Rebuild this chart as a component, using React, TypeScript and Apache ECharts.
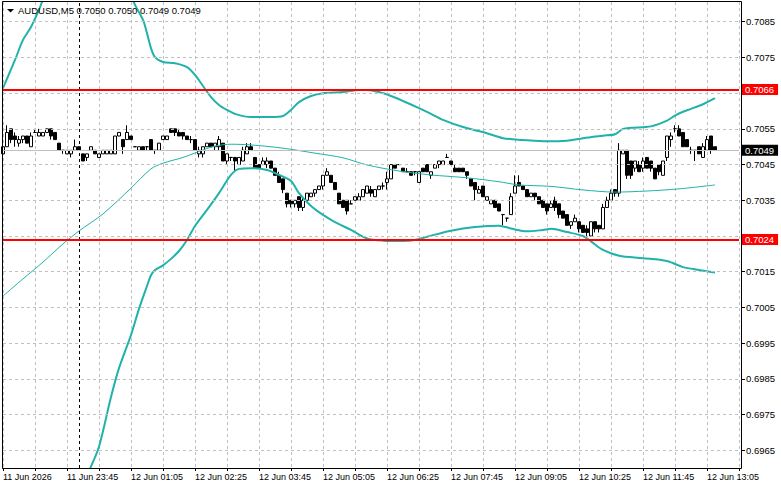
import React, { useEffect, useRef } from 'react';
import * as echarts from 'echarts';

const symbol = 'AUDUSD';
const timeframe = 'M5';
const slotCount = 185;
const startMinutes = 22 * 60 + 25; // 11 Jun 22:25
const separatorIndex = 19; // 12 Jun 00:00

const tickLabels = [
  '11 Jun 2026', '11 Jun 23:45', '12 Jun 01:05', '12 Jun 02:25', '12 Jun 03:45', '12 Jun 05:05',
  '12 Jun 06:25', '12 Jun 07:45', '12 Jun 09:05', '12 Jun 10:25', '12 Jun 11:45', '12 Jun 13:05',
];

const yTicks = [0.6965, 0.6975, 0.6985, 0.6995, 0.7005, 0.7015, 0.7025, 0.7035, 0.7045, 0.7055, 0.7065, 0.7075, 0.7085];

const resistance = 0.7066;
const support = 0.7024;
const bid = 0.7049;

// [open, close, low, high]
const ohlc: number[][] = [
  [0.7048, 0.7050, 0.7048, 0.7050], [0.7050, 0.7054, 0.7050, 0.7056], [0.7055, 0.7052, 0.7051, 0.7055], [0.7053, 0.7052, 0.7050, 0.7054],
  [0.7051, 0.7052, 0.7050, 0.7053], [0.7052, 0.7053, 0.7051, 0.7053], [0.7053, 0.7051, 0.7051, 0.7053], [0.7050, 0.7053, 0.7050, 0.7054],
  [0.7054, 0.7054, 0.7054, 0.7055], [0.7053, 0.7054, 0.7053, 0.7055], [0.7053, 0.7054, 0.7053, 0.7054], [0.7054, 0.7055, 0.7054, 0.7055],
  [0.7055, 0.7053, 0.7052, 0.7055], [0.7054, 0.7052, 0.7052, 0.7054], [0.7051, 0.7049, 0.7049, 0.7051], [0.7049, 0.7049, 0.7048, 0.7049],
  [0.7048, 0.7049, 0.7048, 0.7049], [0.7048, 0.7049, 0.7047, 0.7049], [0.7049, 0.7050, 0.7049, 0.7052], [0.7050, 0.7049, 0.7049, 0.7050],
  [0.7048, 0.7046, 0.7046, 0.7048], [0.7047, 0.7048, 0.7046, 0.7048], [0.7049, 0.7050, 0.7049, 0.7050], [0.7049, 0.7048, 0.7048, 0.7049],
  [0.7047, 0.7048, 0.7047, 0.7048], [0.7048, 0.7049, 0.7048, 0.7049], [0.7048, 0.7049, 0.7048, 0.7049], [0.7048, 0.7049, 0.7048, 0.7049],
  [0.7048, 0.7053, 0.7048, 0.7053], [0.7053, 0.7054, 0.7053, 0.7054], [0.7052, 0.7050, 0.7048, 0.7052], [0.7052, 0.7054, 0.7052, 0.7056],
  [0.7053, 0.7052, 0.7052, 0.7053], [0.7050, 0.7050, 0.7050, 0.7050], [0.7049, 0.7050, 0.7049, 0.7050], [0.7050, 0.7049, 0.7049, 0.7050],
  [0.7050, 0.7050, 0.7049, 0.7050], [0.7052, 0.7049, 0.7049, 0.7052], [0.7049, 0.7049, 0.7048, 0.7049], [0.7049, 0.7051, 0.7049, 0.7051],
  [0.7052, 0.7053, 0.7052, 0.7053], [0.7052, 0.7053, 0.7052, 0.7053], [0.7055, 0.7054, 0.7054, 0.7055], [0.7055, 0.7054, 0.7053, 0.7055],
  [0.7054, 0.7053, 0.7053, 0.7055], [0.7054, 0.7053, 0.7052, 0.7054], [0.7053, 0.7052, 0.7052, 0.7053], [0.7052, 0.7052, 0.7051, 0.7053],
  [0.7052, 0.7049, 0.7049, 0.7052], [0.7048, 0.7049, 0.7047, 0.7050], [0.7048, 0.7050, 0.7047, 0.7050], [0.7050, 0.7051, 0.7050, 0.7051],
  [0.7051, 0.7050, 0.7050, 0.7051], [0.7050, 0.7051, 0.7049, 0.7051], [0.7050, 0.7052, 0.7049, 0.7053], [0.7051, 0.7046, 0.7046, 0.7051],
  [0.7046, 0.7048, 0.7045, 0.7048], [0.7047, 0.7047, 0.7046, 0.7047], [0.7047, 0.7046, 0.7043, 0.7047], [0.7045, 0.7047, 0.7045, 0.7047],
  [0.7046, 0.7049, 0.7046, 0.7050], [0.7048, 0.7050, 0.7048, 0.7051], [0.7050, 0.7049, 0.7049, 0.7051], [0.7047, 0.7044, 0.7044, 0.7047],
  [0.7045, 0.7044, 0.7044, 0.7045], [0.7045, 0.7046, 0.7045, 0.7047], [0.7045, 0.7046, 0.7044, 0.7047], [0.7046, 0.7044, 0.7044, 0.7046],
  [0.7044, 0.7042, 0.7042, 0.7044], [0.7042, 0.7040, 0.7040, 0.7043], [0.7041, 0.7038, 0.7037, 0.7041], [0.7037, 0.7034, 0.7033, 0.7037],
  [0.7035, 0.7034, 0.7033, 0.7035], [0.7034, 0.7035, 0.7033, 0.7035], [0.7036, 0.7033, 0.7032, 0.7036], [0.7033, 0.7035, 0.7032, 0.7036],
  [0.7035, 0.7037, 0.7035, 0.7037], [0.7036, 0.7037, 0.7036, 0.7037], [0.7037, 0.7038, 0.7036, 0.7038], [0.7038, 0.7039, 0.7038, 0.7039],
  [0.7039, 0.7042, 0.7038, 0.7042], [0.7042, 0.7043, 0.7042, 0.7044], [0.7042, 0.7040, 0.7040, 0.7042], [0.7040, 0.7038, 0.7038, 0.7040],
  [0.7037, 0.7034, 0.7034, 0.7037], [0.7035, 0.7033, 0.7033, 0.7035], [0.7035, 0.7032, 0.7031, 0.7035], [0.7034, 0.7034, 0.7034, 0.7035],
  [0.7035, 0.7036, 0.7035, 0.7036], [0.7035, 0.7036, 0.7035, 0.7037], [0.7036, 0.7038, 0.7036, 0.7038], [0.7037, 0.7039, 0.7037, 0.7039],
  [0.7038, 0.7037, 0.7036, 0.7039], [0.7036, 0.7038, 0.7036, 0.7038], [0.7038, 0.7039, 0.7038, 0.7039], [0.7039, 0.7039, 0.7038, 0.7040],
  [0.7040, 0.7041, 0.7038, 0.7043], [0.7041, 0.7045, 0.7041, 0.7045], [0.7045, 0.7044, 0.7044, 0.7045], [0.7045, 0.7045, 0.7045, 0.7045],
  [0.7044, 0.7043, 0.7043, 0.7044], [0.7043, 0.7043, 0.7043, 0.7044], [0.7043, 0.7042, 0.7042, 0.7043], [0.7043, 0.7043, 0.7042, 0.7043],
  [0.7040, 0.7043, 0.7040, 0.7043], [0.7044, 0.7043, 0.7043, 0.7044], [0.7045, 0.7043, 0.7043, 0.7045], [0.7042, 0.7043, 0.7041, 0.7043],
  [0.7044, 0.7045, 0.7044, 0.7045], [0.7045, 0.7046, 0.7044, 0.7046], [0.7045, 0.7046, 0.7045, 0.7046], [0.7047, 0.7047, 0.7047, 0.7048],
  [0.7046, 0.7045, 0.7045, 0.7046], [0.7044, 0.7043, 0.7043, 0.7045], [0.7044, 0.7043, 0.7043, 0.7044], [0.7044, 0.7043, 0.7043, 0.7044],
  [0.7043, 0.7042, 0.7041, 0.7043], [0.7041, 0.7039, 0.7039, 0.7041], [0.7040, 0.7038, 0.7035, 0.7040], [0.7037, 0.7038, 0.7037, 0.7039],
  [0.7039, 0.7036, 0.7036, 0.7039], [0.7035, 0.7036, 0.7035, 0.7036], [0.7034, 0.7035, 0.7034, 0.7035], [0.7035, 0.7033, 0.7033, 0.7035],
  [0.7034, 0.7032, 0.7032, 0.7034], [0.7031, 0.7031, 0.7028, 0.7031], [0.7030, 0.7030, 0.7029, 0.7030], [0.7031, 0.7036, 0.7031, 0.7037],
  [0.7037, 0.7039, 0.7037, 0.7042], [0.7040, 0.7039, 0.7039, 0.7042], [0.7039, 0.7038, 0.7038, 0.7039], [0.7038, 0.7036, 0.7036, 0.7038],
  [0.7036, 0.7037, 0.7036, 0.7037], [0.7037, 0.7036, 0.7035, 0.7037], [0.7036, 0.7034, 0.7034, 0.7036], [0.7035, 0.7033, 0.7033, 0.7035],
  [0.7034, 0.7032, 0.7031, 0.7034], [0.7033, 0.7034, 0.7033, 0.7035], [0.7035, 0.7033, 0.7032, 0.7036], [0.7034, 0.7031, 0.7030, 0.7034],
  [0.7032, 0.7030, 0.7030, 0.7032], [0.7031, 0.7028, 0.7028, 0.7031], [0.7028, 0.7029, 0.7027, 0.7029], [0.7029, 0.7030, 0.7029, 0.7031],
  [0.7029, 0.7027, 0.7026, 0.7029], [0.7028, 0.7026, 0.7026, 0.7028], [0.7027, 0.7026, 0.7024, 0.7028], [0.7025, 0.7029, 0.7025, 0.7029],
  [0.7029, 0.7027, 0.7026, 0.7029], [0.7028, 0.7027, 0.7026, 0.7028], [0.7027, 0.7033, 0.7027, 0.7034], [0.7033, 0.7035, 0.7033, 0.7036],
  [0.7035, 0.7037, 0.7035, 0.7038], [0.7038, 0.7037, 0.7036, 0.7038], [0.7037, 0.7049, 0.7036, 0.7051], [0.7048, 0.7049, 0.7048, 0.7049],
  [0.7049, 0.7042, 0.7041, 0.7049], [0.7046, 0.7042, 0.7041, 0.7046], [0.7044, 0.7046, 0.7043, 0.7046], [0.7045, 0.7043, 0.7043, 0.7046],
  [0.7044, 0.7046, 0.7043, 0.7047], [0.7047, 0.7044, 0.7044, 0.7047], [0.7046, 0.7044, 0.7043, 0.7046], [0.7044, 0.7041, 0.7041, 0.7044],
  [0.7045, 0.7043, 0.7042, 0.7045], [0.7042, 0.7046, 0.7042, 0.7046], [0.7047, 0.7053, 0.7046, 0.7053], [0.7052, 0.7053, 0.7050, 0.7054],
  [0.7055, 0.7055, 0.7054, 0.7056], [0.7055, 0.7053, 0.7053, 0.7056], [0.7054, 0.7050, 0.7050, 0.7054], [0.7052, 0.7050, 0.7050, 0.7052],
  [0.7049, 0.7049, 0.7048, 0.7050], [0.7049, 0.7049, 0.7046, 0.7049], [0.7050, 0.7048, 0.7048, 0.7050], [0.7047, 0.7050, 0.7047, 0.7051],
  [0.7049, 0.7052, 0.7049, 0.7053], [0.7053, 0.7049, 0.7048, 0.7053], [0.7050, 0.7049, 0.7049, 0.7050],
];

// Bollinger bands read at selected bars: [bar index, price]
const upperBand: number[][] = [
  [0, 0.70664], [3, 0.70743], [5, 0.70799], [7, 0.70835], [9, 0.70883], [10, 0.70911], [13, 0.7096], [17, 0.7099],
  [22, 0.7100], [27, 0.7098], [30, 0.7096], [32, 0.70925], [33, 0.70897], [35, 0.70855], [36, 0.70818], [37, 0.70776],
  [38, 0.70751], [40, 0.70737], [43, 0.70734], [46, 0.70723], [48, 0.70701], [50, 0.70670], [52, 0.70639], [54, 0.70617],
  [56, 0.70603], [58, 0.70592], [62, 0.70583], [67, 0.70583], [70, 0.70586], [72, 0.70603], [74, 0.70625], [77, 0.70642],
  [80, 0.70650], [85, 0.70653], [89, 0.70659], [91, 0.70659], [94, 0.70653], [97, 0.70642], [100, 0.70628], [104, 0.70608],
  [107, 0.70592], [110, 0.70575], [115, 0.70555], [120, 0.70541], [125, 0.70524], [130, 0.70519], [136, 0.70515], [141, 0.70517],
  [145, 0.70524], [150, 0.70531], [153, 0.70535], [155, 0.70550], [157, 0.70553], [162, 0.70557], [166, 0.70573], [168, 0.70587],
  [170, 0.70598], [172, 0.70606], [175, 0.70619], [178, 0.70636],
];

const middleBand: number[][] = [
  [0, 0.70082], [5, 0.70130], [10, 0.70177], [15, 0.70228], [19, 0.70264], [25, 0.70312], [32, 0.70384], [37, 0.70438],
  [40, 0.70454], [45, 0.70470], [50, 0.70491], [53, 0.70502], [57, 0.70507], [62, 0.70505], [70, 0.70496], [78, 0.70482],
  [85, 0.70469], [91, 0.70449], [99, 0.70432], [107, 0.70421], [116, 0.70413], [124, 0.70402], [129, 0.70393], [137, 0.70389],
  [145, 0.70379], [153, 0.70373], [161, 0.70376], [169, 0.70382], [178, 0.70393],
];

const lowerBand: number[][] = [
  [0, 0.6950], [5, 0.6946], [10, 0.6944], [15, 0.6946], [19, 0.6953], [22, 0.69605], [24, 0.69660], [27, 0.69799],
  [29, 0.69880], [32, 0.69973], [34, 0.70046], [36, 0.70110], [37, 0.70140], [38, 0.70155], [40, 0.70168], [42, 0.70186],
  [44, 0.70208], [46, 0.70239], [48, 0.70278], [51, 0.70323], [54, 0.70370], [57, 0.70421], [59, 0.70438], [62, 0.70440],
  [66, 0.70435], [69, 0.70421], [72, 0.70404], [74, 0.70370], [77, 0.70334], [80, 0.70309], [83, 0.70289], [87, 0.70267],
  [91, 0.70243], [95, 0.70237], [100, 0.70236], [103, 0.70239], [107, 0.70251], [112, 0.70265], [118, 0.70275], [124, 0.70279],
  [127, 0.70271], [131, 0.70263], [135, 0.70267], [137, 0.70270], [141, 0.70261], [145, 0.70250], [147, 0.70235], [150, 0.70211],
  [154, 0.70195], [160, 0.70188], [166, 0.70180], [170, 0.70163], [174, 0.70155], [178, 0.70148],
];

const pad = (n: number) => String(n).padStart(2, '0');
const categories = Array.from({ length: slotCount }, (_, i) => {
  const t = startMinutes + 5 * i;
  const day = 11 + Math.floor(t / 1440);
  const m = t % 1440;
  return `${day} Jun ${pad(Math.floor(m / 60))}:${pad(m % 60)}`;
});

const FONT = 'Liberation Sans';
const BAND = '#20b2aa';

export default function App() {
  const ref = useRef<HTMLDivElement>(null);
  useEffect(() => {
    const chart = echarts.init(ref.current!, null, { renderer: 'svg' });
    const last = ohlc[ohlc.length - 1];
    const title = `${symbol},${timeframe} ${last[0].toFixed(4)} ${last[3].toFixed(4)} ${last[2].toFixed(4)} ${last[1].toFixed(4)}`;
    const closes = ohlc.map((c) => c[1]);
    // tick labels hidden behind the level boxes, as in the terminal
    const labelValues = yTicks.filter((v) => Math.abs(v - resistance) > 0.0003 && Math.abs(v - support) > 0.0003);
    const boxLabel = (bg: string, v: number) => ({
      show: true,
      position: 'end',
      distance: 2,
      formatter: v.toFixed(4),
      backgroundColor: bg,
      color: '#ffffff',
      fontSize: 9.5,
      fontFamily: FONT,
      lineHeight: 10,
      padding: [1, 4, 0, 4],
    });
    const option: any = {
      animation: false,
      backgroundColor: '#ffffff',
      textStyle: { fontFamily: FONT },
      grid: { left: 3, right: 42, top: 2, bottom: 21, containLabel: false },
      xAxis: {
        type: 'category',
        data: categories,
        boundaryGap: false,
        axisLine: { show: true, lineStyle: { color: '#000', width: 1 } },
        axisTick: { show: true, interval: 7, length: 3, lineStyle: { color: '#000' } },
        axisLabel: {
          interval: 15,
          align: 'left',
          margin: 4,
          color: '#000',
          fontSize: 9,
          fontFamily: FONT,
          formatter: (_v: string, i: number) => (i % 16 === 0 ? tickLabels[i / 16] ?? '' : ''),
        },
        splitLine: { show: true, interval: 7, lineStyle: { color: '#c0c0c0', type: [3, 3], width: 1 } },
      },
      yAxis: {
        type: 'value',
        position: 'right',
        min: 0.696005,
        max: 0.709052,
        offset: 2,
        axisLine: { show: false },
        axisTick: { show: true, customValues: yTicks, length: 4, lineStyle: { color: '#000' } },
        axisLabel: {
          show: true,
          customValues: labelValues,
          margin: 5,
          color: '#000',
          fontSize: 9.5,
          fontFamily: FONT,
          formatter: (v: number) => v.toFixed(4),
        },
        splitLine: { show: false },
      },
      graphic: [
        { type: 'rect', z: 100, silent: true, shape: { x: 2.5, y: 1.5, width: 739, height: 467 }, style: { fill: 'none', stroke: '#000', lineWidth: 1 } },
        { type: 'polygon', z: 100, silent: true, shape: { points: [[7, 9], [14, 9], [10.5, 12.5]] }, style: { fill: '#000' } },
        { type: 'text', z: 100, silent: true, x: 18, y: 10.5, style: { text: title, fill: '#000', fontSize: 9.5, fontFamily: FONT, verticalAlign: 'middle' } },
      ],
      series: [
        {
          type: 'line',
          name: 'grid',
          data: closes,
          z: 1,
          silent: true,
          showSymbol: false,
          symbol: 'none',
          lineStyle: { opacity: 0 },
          markLine: {
            silent: true,
            precision: 5,
            symbol: ['none', 'none'],
            animation: false,
            label: { show: false },
            lineStyle: { color: '#c0c0c0', type: [3, 3], width: 1 },
            data: [
              ...yTicks.map((v) => ({ yAxis: v })),
              { yAxis: bid, lineStyle: { color: '#c0c0c0', type: 'solid', width: 1 } },
              { xAxis: categories[separatorIndex], lineStyle: { color: '#000', type: [3, 3], width: 1 } },
            ],
          },
        },
        {
          type: 'candlestick',
          name: symbol,
          data: ohlc,
          z: 2,
          barWidth: 3,
          itemStyle: {
            color: '#ffffff',
            color0: '#000000',
            borderColor: '#000000',
            borderColor0: '#000000',
            borderColorDoji: '#000000',
            borderWidth: 1,
          },
        },
        { type: 'line', name: 'upper', data: upperBand, z: 3, smooth: 0.3, showSymbol: false, symbol: 'none', lineStyle: { color: BAND, width: 2 } },
        { type: 'line', name: 'middle', data: middleBand, z: 3, smooth: 0.3, showSymbol: false, symbol: 'none', lineStyle: { color: BAND, width: 1 } },
        { type: 'line', name: 'lower', data: lowerBand, z: 3, smooth: 0.3, showSymbol: false, symbol: 'none', lineStyle: { color: BAND, width: 2 } },
        {
          type: 'line',
          name: 'levels',
          data: closes,
          z: 5,
          clip: false,
          silent: true,
          showSymbol: false,
          symbol: 'none',
          lineStyle: { opacity: 0 },
          markLine: {
            silent: true,
            precision: 5,
            symbol: ['none', 'none'],
            animation: false,
            data: [
              { yAxis: resistance, lineStyle: { color: '#ff0000', type: 'solid', width: 2 }, label: boxLabel('#ff0000', resistance) },
              { yAxis: support, lineStyle: { color: '#ff0000', type: 'solid', width: 2 }, label: boxLabel('#ff0000', support) },
              { yAxis: bid, lineStyle: { color: '#c0c0c0', type: 'solid', width: 1 }, label: boxLabel('#000000', bid) },
            ],
          },
        },
      ],
    };
    chart.setOption(option);
    return () => chart.dispose();
  }, []);
  return <div ref={ref} style={{ position: 'fixed', left: 0, top: 0, width: 781, height: 489, background: '#fff' }} />;
}
